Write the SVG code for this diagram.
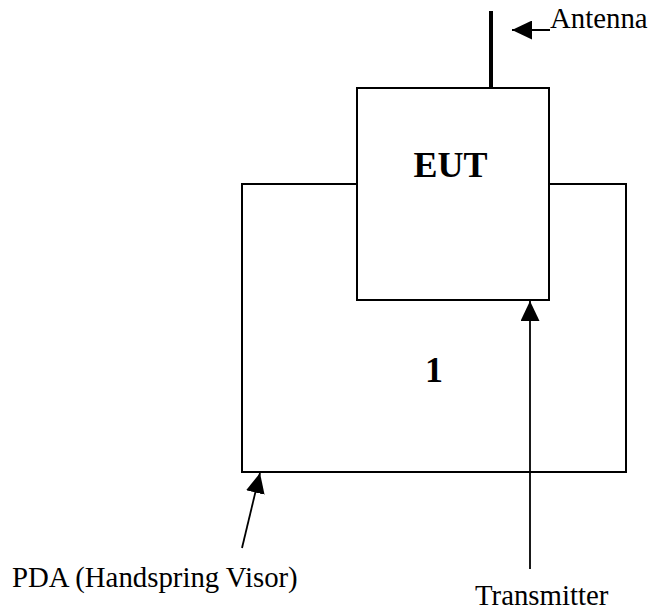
<svg xmlns="http://www.w3.org/2000/svg" width="650" height="611" viewBox="0 0 650 611">
<style>
.box{fill:#fff;stroke:#000;stroke-width:2}
.lbl{font-family:"Liberation Serif","Times New Roman",serif;font-size:28.8px;fill:#000}
.big{font-family:"Liberation Serif","Times New Roman",serif;font-size:36px;font-weight:bold;fill:#000}
.conn{stroke:#000;stroke-width:1.8;fill:none}
</style>
<defs>
<marker id="ah" markerUnits="userSpaceOnUse" markerWidth="20" markerHeight="19" viewBox="0 -9.5 20 19" refX="20" refY="0" orient="auto">
<path d="M0,-9.5 L20,0 L0,9.5 Z" fill="#000"/>
</marker>
</defs>
<rect width="650" height="611" fill="#fff"/>
<g id="pda">
<rect class="box" x="242" y="184" width="384" height="288"/>
<text class="big" x="434" y="382" text-anchor="middle">1</text>
</g>
<g id="eut">
<rect class="box" x="357" y="88" width="192" height="212"/>
<text class="big" x="450.5" y="177" text-anchor="middle">EUT</text>
</g>
<g id="antenna">
<line x1="491" y1="11" x2="491" y2="88" stroke="#000" stroke-width="4"/>
</g>
<g id="connectors">
<line class="conn" x1="550" y1="30" x2="512" y2="30" marker-end="url(#ah)"/>
<line class="conn" x1="530" y1="569" x2="530" y2="301" marker-end="url(#ah)"/>
<line class="conn" x1="242" y1="548" x2="260" y2="473" marker-end="url(#ah)"/>
</g>
<g id="labels">
<text class="lbl" x="550" y="28">Antenna</text>
<text class="lbl" x="12" y="587">PDA (Handspring Visor)</text>
<text class="lbl" x="475" y="605">Transmitter</text>
</g>
</svg>
